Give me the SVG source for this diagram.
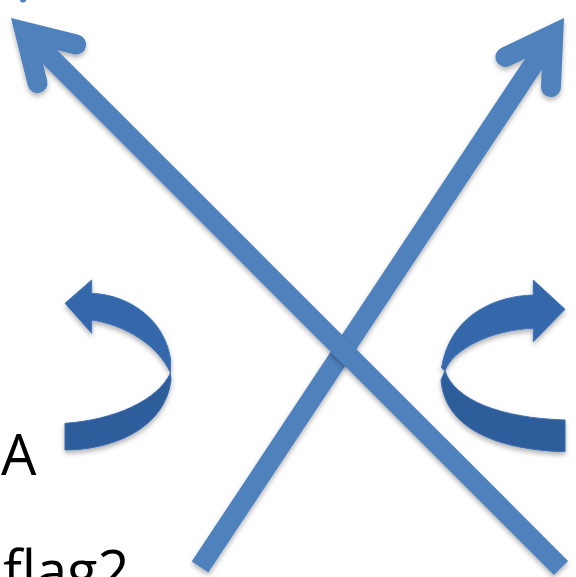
<svg xmlns="http://www.w3.org/2000/svg" width="576" height="577" viewBox="0 0 576 577">
<style>
.shaft{fill:none;stroke:#4F81BD;stroke-width:20;stroke-linecap:butt}
.head{fill:none;stroke:#4F81BD;stroke-width:20;stroke-linecap:round;stroke-linejoin:miter}
.top{fill:#3567AA;stroke:#4275BA;stroke-width:1}
.low{fill:#2E5D9B;stroke:#3A6BAE;stroke-width:1}
.lbl{font-family:"Open Sans","Liberation Sans",sans-serif;font-size:56px;fill:#000}
</style>
<defs>
<filter id="sh" x="-10%" y="-10%" width="120%" height="120%">
<feDropShadow dx="0" dy="3" stdDeviation="2.5" flood-color="#000" flood-opacity="0.3"/>
</filter>
<marker id="ah" markerUnits="userSpaceOnUse" orient="auto" refX="0" refY="0" markerWidth="10" markerHeight="10" overflow="visible">
<path class="head" d="M-45.4,-27.3 L0,0 L-45.4,27.3"/>
</marker>
</defs>
<rect width="576" height="577" fill="#fff"/>
<ellipse cx="23" cy="0" rx="3" ry="2.5" fill="#4F81BD"/>
<g id="connectors">
<path id="arrow-up-right" class="shaft" filter="url(#sh)" marker-end="url(#ah)" d="M200,567 L553.3,34.2"/>
<path id="arrow-up-left" class="shaft" filter="url(#sh)" marker-end="url(#ah)" d="M561,568 L24.7,31.7"/>
</g>
<g id="curved-arrow-left" filter="url(#sh)">
<path class="low" d="M170.5,373 C158,400 115,420 65,423.3 L65,450 C110,450 165,430 171,380 Z"/>
<path class="top" d="M65,303.3 L91.7,280 L91.7,293.3 C130,295 165,320 170.7,360 L170.5,373 C158,345 125,325 91.7,320 L91.7,333.3 Z"/>
</g>
<g id="curved-arrow-right" filter="url(#sh)">
<path class="low" d="M445,371 C455,400 500,418 565,420 L565,451.7 C500,450 445,430 441,380 Z"/>
<path class="top" d="M565,309.3 L533.3,280 L533.3,295 C495,296 450,315 441.5,368 L445,371 C452,350 490,330 533.3,328.3 L533.3,341.7 Z"/>
</g>
<g id="labels">
<text class="lbl" x="1" y="475">A</text>
<text class="lbl" x="3" y="591">flag2</text>
</g>
</svg>
